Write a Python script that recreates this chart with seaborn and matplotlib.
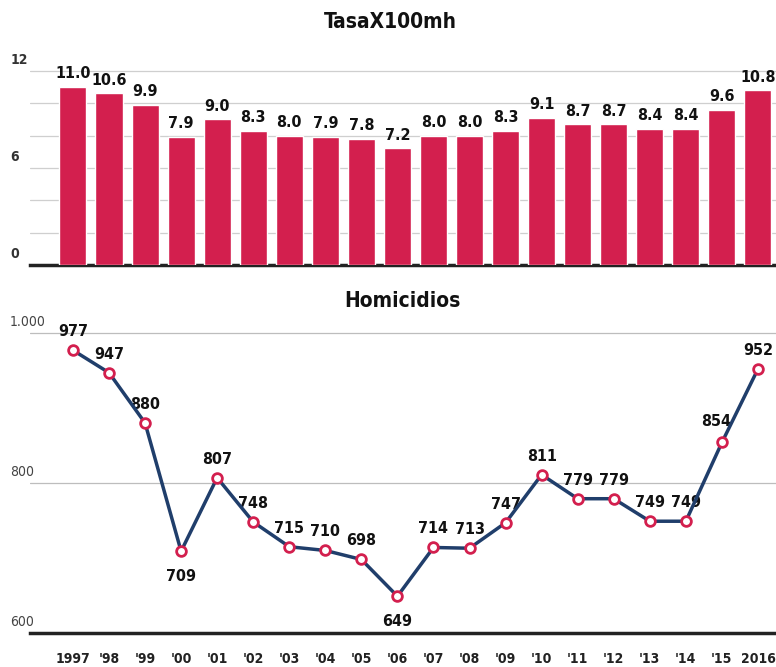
import pandas as pd
import matplotlib
matplotlib.use("Agg")
import matplotlib.pyplot as plt
import matplotlib.transforms as mtransforms
import seaborn as sns

# data
years = ["1997", "'98", "'99", "'00", "'01", "'02", "'03", "'04", "'05", "'06",
         "'07", "'08", "'09", "'10", "'11", "'12", "'13", "'14", "'15", "2016"]
tasa = [11.0, 10.6, 9.9, 7.9, 9.0, 8.3, 8.0, 7.9, 7.8, 7.2,
        8.0, 8.0, 8.3, 9.1, 8.7, 8.7, 8.4, 8.4, 9.6, 10.8]
homicidios = [977, 947, 880, 709, 807, 748, 715, 710, 698, 649,
              714, 713, 747, 811, 779, 779, 749, 749, 854, 952]
tasa_ticks = [0, 6, 12]
tasa_grid = [2, 4, 6, 8, 10, 12]
hom_ticks = [600, 800, 1000]
hom_tick_labels = ["600", "800", "1.000"]
# labels drawn below the point
below = {"'00", "'06"}

df = pd.DataFrame({"year": years, "tasa": tasa, "hom": homicidios})

sns.set_theme(style="white")
plt.rcParams["font.family"] = ["DejaVu Sans"]
plt.rcParams["font.stretch"] = "condensed"

RED = "#d31f4e"
NAVY = "#203e6b"

fig = plt.figure(figsize=(7.76, 6.67), dpi=100)
ax1 = fig.add_axes([0.0387, 0.6027, 0.9613, 0.3373])
ax2 = fig.add_axes([0.0387, 0.051, 0.9613, 0.4768])

# --- top: rate bars
sns.barplot(data=df, x="year", y="tasa", color=RED, width=0.75,
            saturation=1, ax=ax1, zorder=3)
for i, v in enumerate(tasa):
    ax1.text(i, v + 0.35, f"{v:.1f}", ha="center", va="bottom",
             fontsize=11.5, fontweight="bold", color="#111")
ax1.set_xlim(-1.19, 19.5)
ax1.set_ylim(0, 13.9)
ax1.set_yticks([])
ax1.set_xticks([])
ax1.set_xlabel("")
ax1.set_ylabel("")
for g in tasa_grid:
    ax1.axhline(g, color="#cfcfcf", lw=0.9, zorder=1)
for s in ["top", "right", "left"]:
    ax1.spines[s].set_visible(False)
ax1.spines["bottom"].set_color("#222")
ax1.spines["bottom"].set_linewidth(2.5)
tr1 = mtransforms.blended_transform_factory(fig.transFigure, ax1.transData)
for t in tasa_ticks:
    ax1.text(0.013, t + 0.25, str(t), transform=tr1, ha="left", va="bottom",
             fontsize=10, fontweight="bold", color="#333")

# --- bottom: homicides line
sns.pointplot(data=df, x="year", y="hom", color=NAVY, linewidth=2.5,
              marker="o", markersize=7, markerfacecolor="white",
              markeredgecolor=RED, markeredgewidth=2, ax=ax2, zorder=4)
for i, (yr, v) in enumerate(zip(years, homicidios)):
    if yr in below:
        ax2.annotate(str(v), (i, v), xytext=(0, -13), textcoords="offset points",
                     ha="center", va="top", fontsize=11.5, fontweight="bold", color="#111")
    elif yr == "'15":
        ax2.annotate(str(v), (i, v), xytext=(-4, 10), textcoords="offset points",
                     ha="center", va="bottom", fontsize=11.5, fontweight="bold", color="#111")
    else:
        ax2.annotate(str(v), (i, v), xytext=(0, 8), textcoords="offset points",
                     ha="center", va="bottom", fontsize=11.5, fontweight="bold", color="#111")
ax2.set_xlim(-1.19, 19.5)
ax2.set_ylim(600, 1024)
ax2.set_yticks([])
ax2.set_xlabel("")
ax2.set_ylabel("")
for g in hom_ticks[1:]:
    ax2.axhline(g, color="#bdbdbd", lw=0.9, zorder=1)
for s in ["top", "right", "left"]:
    ax2.spines[s].set_visible(False)
ax2.spines["bottom"].set_color("#222")
ax2.spines["bottom"].set_linewidth(2.5)
ax2.tick_params(axis="x", length=0, pad=14, labelsize=10)
for lab in ax2.get_xticklabels():
    lab.set_fontweight("bold")
    lab.set_color("#222")
tr2 = mtransforms.blended_transform_factory(fig.transFigure, ax2.transData)
for t, lab in zip(hom_ticks, hom_tick_labels):
    ax2.text(0.013, t + 5, lab, transform=tr2, ha="left", va="bottom",
             fontsize=10, color="#444")

fig.text(0.503, 0.967, "TasaX100mh", ha="center", va="center",
         fontsize=15, fontweight="bold", color="#111")
fig.text(0.518, 0.549, "Homicidios", ha="center", va="center",
         fontsize=15, fontweight="bold", color="#111")

fig.savefig("out.png", dpi=100, facecolor="white")
